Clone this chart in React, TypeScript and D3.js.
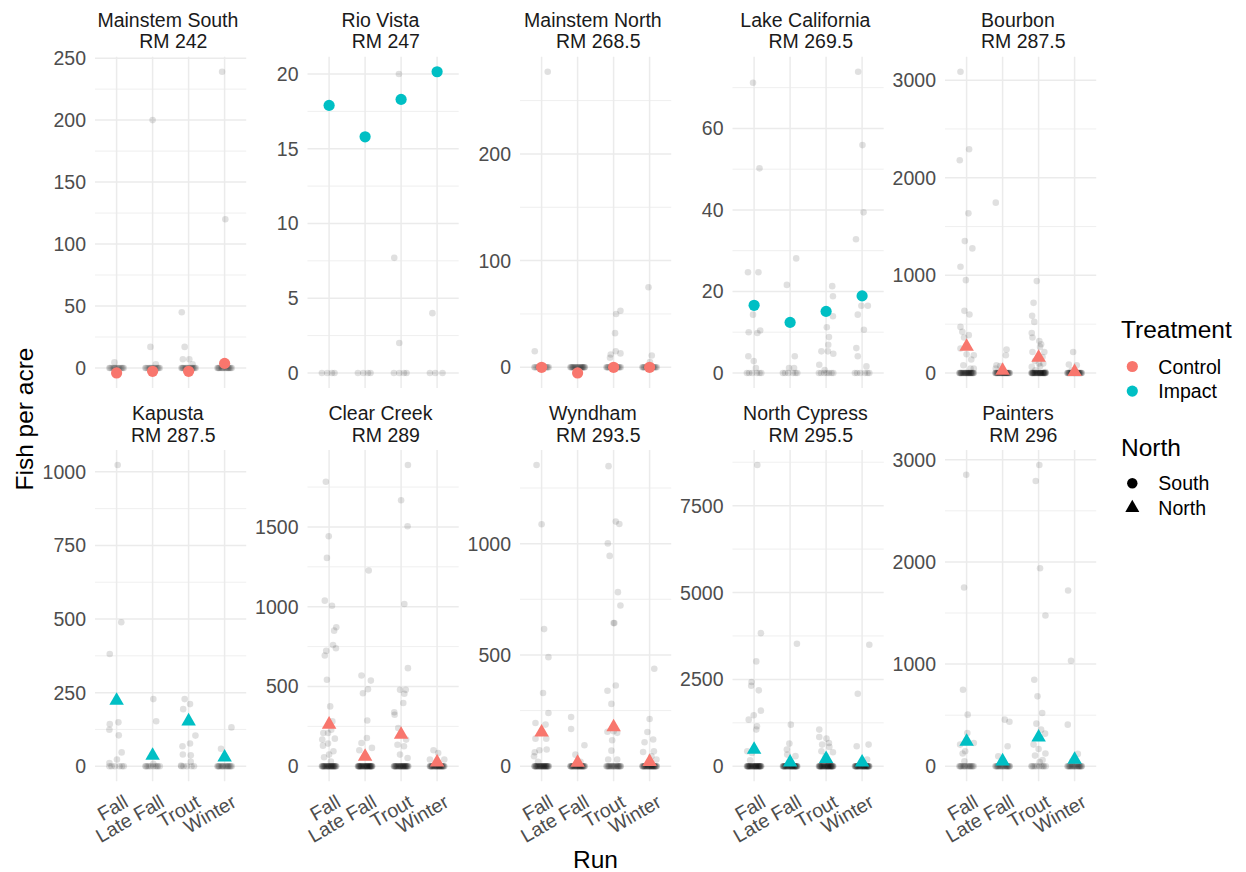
import * as d3 from "d3";

// Run categories and facet metadata
const RUNS = ["Fall", "Late Fall", "Trout", "Winter"];
const SITES = [
  "Mainstem South", "Rio Vista", "Mainstem North", "Lake California", "Bourbon",
  "Kapusta", "Clear Creek", "Wyndham", "North Cypress", "Painters",
];
const RIVER_MILE = ["242", "247", "268.5", "269.5", "287.5", "287.5", "289", "293.5", "295.5", "296"];
const TREATMENT = ["Control", "Impact", "Control", "Impact", "Control", "Impact", "Control", "Control", "Impact", "Impact"];
const NORTH = ["South", "South", "South", "South", "North", "North", "North", "North", "North", "North"];

// plotted summary point per site x run
const MEANS = [
  [-4, -2.7, -2.7, 3.7],
  [17.9, 15.8, 18.3, 20.15],
  [0, -5.3, 0, 0],
  [16.6, 12.4, 15.1, 18.9],
  [270, 25, 158, 12],
  [223, 36, 153, 30],
  [262, 60, 198, 25],
  [152, 16, 176, 20],
  [479, 110, 211, 115],
  [241, 49, 283, 65],
];

const Y_BREAKS = [
  [0, 50, 100, 150, 200, 250],
  [0, 5, 10, 15, 20],
  [0, 100, 200],
  [0, 20, 40, 60],
  [0, 1000, 2000, 3000],
  [0, 250, 500, 750, 1000],
  [0, 500, 1000, 1500],
  [0, 500, 1000],
  [0, 2500, 5000, 7500],
  [0, 1000, 2000, 3000],
];

// how many raw observations sit at zero (site x run)
const ZERO_COUNTS = [
  [14, 14, 16, 16],
  [4, 4, 4, 3],
  [14, 20, 16, 16],
  [6, 6, 7, 6],
  [30, 30, 35, 30],
  [6, 10, 5, 16],
  [30, 35, 30, 30],
  [30, 30, 20, 30],
  [35, 35, 35, 35],
  [16, 20, 10, 20],
];
const ZERO_DX = [
  -0.2, 0.15, -0.05, 0.08, -0.14, 0.2, 0.02, -0.1, 0.12, -0.18, 0.05, -0.02, 0.17,
  -0.07, 0.1, -0.16, 0.0, 0.13, -0.12, 0.19, -0.04, 0.07, -0.19, 0.03, 0.16,
  -0.09, 0.11, -0.15, 0.06, -0.01, 0.18, -0.11, 0.04, -0.17, 0.14, -0.06, 0.09,
];

// non-zero raw observations: [jitter dx, fish per acre], one list per run
const MAINSTEM_SOUTH = [
  [[-0.06, 4.5]],
  [[0, 200], [-0.06, 17], [0.09, 3]],
  [[-0.19, 45], [-0.11, 17], [-0.16, 7], [0.02, 7], [0.11, 3]],
  [[-0.07, 239], [0.02, 120]],
];
const RIO_VISTA = [
  [],
  [],
  [[-0.06, 20], [-0.19, 7.7], [-0.05, 2]],
  [[-0.13, 4]],
];
const MAINSTEM_NORTH = [
  [[0.17, 277], [-0.19, 15]],
  [],
  [[0.07, 50], [0.19, 53], [0.04, 32], [-0.1, 9], [-0.08, 12], [0.06, 15], [0.19, 13]],
  [[-0.03, 75], [0.06, 11], [0.01, 5]],
];
const LAKE_CALIFORNIA = [
  [[-0.03, 71.2], [0.15, 50.2], [-0.17, 24.7], [0.12, 24.7], [-0.03, 14.3], [0.09, 9.8], [0.17, 10.4], [-0.15, 10], [-0.16, 4.1], [-0.01, 2.9], [0.05, 1.2]],
  [[0.17, 28.1], [-0.09, 21.6], [0.13, 4.1], [-0.03, 1.2], [0.11, 1.2]],
  [[0.17, 21.3], [0.19, 18.8], [0.19, 13.9], [0.02, 11.2], [0.08, 8.8], [0.06, 6.9], [0.05, 5.3], [0.2, 4.7], [-0.13, 5.3], [-0.19, 2], [-0.04, 0.7]],
  [[-0.11, 73.9], [0.01, 55.9], [0.04, 39.4], [-0.17, 32.8], [-0.12, 14.3], [-0.02, 16.5], [0.16, 16.5], [0.05, 10.6], [-0.16, 6.1], [-0.12, 4.1], [0.12, 1.6]],
];
const BOURBON = [
  [[-0.17, 3086], [0.07, 2292], [-0.19, 2179], [0.05, 1635], [-0.05, 1351], [0.16, 1276], [-0.17, 1088], [-0.02, 951], [-0.06, 636], [0.08, 599], [-0.17, 472], [-0.12, 421], [0.06, 387], [-0.07, 363], [-0.17, 250], [0, 192], [0.2, 181], [0.13, 137], [-0.09, 79], [0.2, 44], [0.11, 44]],
  [[-0.19, 1745], [0.11, 240], [0.09, 181], [-0.17, 79], [-0.07, 70], [-0.19, 44]],
  [[-0.05, 941], [-0.14, 718], [-0.18, 585], [-0.12, 523], [-0.19, 410], [-0.17, 363], [0.02, 328], [0.07, 294], [0.04, 267], [0.16, 215], [-0.17, 215], [0.11, 164], [-0.1, 123], [0.01, 96], [0.13, 96], [-0.19, 62], [0.04, 68], [-0.09, 27], [0.19, 10]],
  [[-0.04, 215], [-0.16, 86], [0.06, 79], [-0.08, 27]],
];
const KAPUSTA = [
  [[0.03, 1023], [0.13, 489], [-0.19, 381], [-0.19, 143], [0.05, 149], [-0.2, 124], [0.06, 105], [0.14, 47], [0.01, 23], [-0.2, 11]],
  [[0.02, 228], [0.1, 153], [0.02, 8]],
  [[-0.11, 228], [0.04, 211], [-0.15, 194], [0.19, 104], [0.04, 77], [-0.17, 68], [-0.16, 40], [0.06, 37], [0.06, 15], [-0.21, 2]],
  [[0.19, 132], [-0.1, 59]],
];
const CLEAR_CREEK = [
  [[-0.09, 1783], [-0.01, 1442], [-0.06, 1306], [-0.12, 1038], [0.08, 1006], [0.2, 871], [0.14, 850], [0.11, 760], [0.19, 740], [-0.08, 723], [-0.12, 694], [-0.06, 542], [0.03, 375], [0.09, 281], [0.06, 229], [-0.16, 208], [-0.03, 208], [-0.19, 167], [0.16, 173], [-0.03, 142], [-0.17, 129], [0.12, 94], [0, 73], [-0.14, 56], [0.05, 30]],
  [[0.1, 1227], [-0.1, 569], [0.16, 537], [0.08, 483], [-0.06, 458], [0.06, 287], [0.05, 177], [-0.1, 146], [0.19, 115], [-0.16, 100], [0.03, 60]],
  [[0.19, 1888], [0, 1667], [0.18, 1504], [0.09, 1017], [0.19, 615], [-0.03, 479], [0.13, 479], [0.09, 454], [0.06, 396], [-0.19, 338], [-0.18, 323], [-0.08, 240], [0.14, 167], [-0.1, 135], [0.08, 125], [-0.03, 73], [0.18, 52]],
  [[-0.1, 100], [0.03, 83], [-0.2, 42], [0.2, 42]],
];
const WYNDHAM = [
  [[-0.14, 1353], [0, 1087], [0.07, 616], [0.19, 490], [0.04, 329], [0.19, 239], [-0.17, 194], [0.11, 187], [-0.17, 124], [0.13, 124], [-0.19, 63], [-0.06, 72], [0.14, 75], [-0.21, 45], [-0.1, 20]],
  [[-0.18, 221], [-0.18, 167], [0.19, 94], [-0.06, 52], [0.08, 20]],
  [[-0.14, 1348], [0.06, 1099], [0.16, 1088], [-0.16, 1001], [-0.11, 945], [0.12, 782], [0.19, 722], [0, 643], [0.02, 643], [0.06, 363], [-0.17, 339], [-0.06, 280], [0, 157], [-0.17, 155], [0.1, 150], [-0.04, 117], [-0.06, 70], [-0.15, 30], [0.1, 30]],
  [[0.13, 438], [0, 212], [-0.06, 154], [-0.14, 108], [0.1, 120], [-0.18, 64], [0.12, 67], [0.05, 45], [0.19, 30]],
];
const NORTH_CYPRESS = [
  [[0.09, 8669], [0.19, 3831], [0.06, 3017], [-0.08, 2318], [-0.07, 2423], [0.13, 2184], [0.19, 1600], [-0.01, 1466], [-0.15, 1341], [0.08, 1149], [0.06, 1054], [-0.19, 431], [-0.06, 383], [-0.11, 172]],
  [[0.19, 3525], [0.02, 1197], [-0.02, 651], [-0.09, 479], [-0.08, 335], [0.15, 290]],
  [[-0.19, 1054], [-0.19, 843], [0.01, 795], [0.08, 670], [-0.11, 623], [0.19, 402], [0.09, 556], [-0.13, 431], [-0.01, 290]],
  [[0.2, 3496], [-0.12, 2088], [0.18, 623], [-0.15, 575], [0.14, 192]],
];
const PAINTERS = [
  [[-0.01, 2853], [-0.07, 1749], [-0.1, 749], [0.03, 505], [0.02, 326], [-0.18, 212], [0.2, 228], [-0.11, 124], [-0.04, 147], [-0.06, 49]],
  [[0.06, 456], [0.19, 436], [0.14, 195], [-0.12, 98]],
  [[0.02, 2948], [-0.08, 2792], [0.04, 1938], [0.19, 1476], [-0.12, 847], [-0.03, 684], [0.1, 521], [-0.06, 417], [0.07, 358], [0.18, 319], [-0.14, 212], [0, 169], [0.19, 124], [-0.1, 104], [0.03, 40], [0.11, 60]],
  [[-0.18, 1720], [-0.1, 1033], [-0.19, 407], [0.09, 121], [-0.06, 50]],
];
const SITE_POINTS = [
  MAINSTEM_SOUTH, RIO_VISTA, MAINSTEM_NORTH, LAKE_CALIFORNIA, BOURBON,
  KAPUSTA, CLEAR_CREEK, WYNDHAM, NORTH_CYPRESS, PAINTERS,
];

const TREATMENT_COLORS: Record<string, string> = { Control: "#F8766D", Impact: "#00BFC4" };

const WIDTH = 1246;
const HEIGHT = 872;
const PANEL_X0 = 95;
const COL_STEP = 212.5;
const PANEL_W = 151.2;
const PANEL_Y0 = 56.7;
const ROW_STEP = 393.3;
const PANEL_H = 331.3;
const FONT = "'Liberation Sans', Arial, Helvetica, sans-serif";
const SMALL = 19.5;
const BIG = 24.5;

const triangle = d3.symbol(d3.symbolTriangle, 91)();
const legendTriangle = d3.symbol(d3.symbolTriangle, 85)();

function Panel({ i }: { i: number }) {
  const col = i % 5;
  const row = Math.floor(i / 5);
  const left = PANEL_X0 + col * COL_STEP;
  const top = PANEL_Y0 + row * ROW_STEP;
  const bottom = top + PANEL_H;

  const x = d3.scalePoint<string>().domain(RUNS).range([left, left + PANEL_W]).padding(0.6);
  const step = x.step();

  const raw: { run: number; dx: number; v: number }[] = [];
  SITE_POINTS[i].forEach((pts, r) => {
    pts.forEach(([dx, v]) => raw.push({ run: r, dx, v }));
    for (let k = 0; k < ZERO_COUNTS[i][r]; k++) raw.push({ run: r, dx: ZERO_DX[k % ZERO_DX.length], v: 0 });
  });

  const all = raw.map((d) => d.v).concat(MEANS[i]);
  const [lo, hi] = d3.extent(all) as [number, number];
  const pad = (hi - lo) * 0.05;
  const y = d3.scaleLinear().domain([lo - pad, hi + pad]).range([bottom, top]);

  const breaks = Y_BREAKS[i];
  const half = (breaks[1] - breaks[0]) / 2;
  const minor = [breaks[0] - half, ...breaks.map((b) => b + half)].filter(
    (m) => m >= lo - pad && m <= hi + pad
  );

  const color = TREATMENT_COLORS[TREATMENT[i]];
  const cx = left + PANEL_W / 2;

  return (
    <g>
      {/* strip */}
      <text x={cx - 2.7} y={top - 30} textAnchor="middle" fontSize={SMALL} fill="#1A1A1A">
        {SITES[i]}
      </text>
      <text x={cx + 2.7} y={top - 8.4} textAnchor="middle" fontSize={SMALL} fill="#1A1A1A">
        {`RM ${RIVER_MILE[i]}`}
      </text>

      {/* grid */}
      {minor.map((m) => (
        <line key={"mi" + m} x1={left} x2={left + PANEL_W} y1={y(m)} y2={y(m)} stroke="#EBEBEB" strokeWidth={0.8} />
      ))}
      {breaks.map((b) => (
        <line key={"ma" + b} x1={left} x2={left + PANEL_W} y1={y(b)} y2={y(b)} stroke="#EBEBEB" strokeWidth={1.5} />
      ))}
      {RUNS.map((r) => (
        <line key={"v" + r} x1={x(r)} x2={x(r)} y1={top} y2={bottom} stroke="#EBEBEB" strokeWidth={1.5} />
      ))}

      {/* y axis labels */}
      {breaks.map((b) => (
        <text key={"yl" + b} x={left - 9} y={y(b)} dy="0.36em" textAnchor="end" fontSize={SMALL} fill="#4D4D4D">
          {b}
        </text>
      ))}

      {/* x axis labels on bottom row */}
      {row === 1 &&
        RUNS.map((r) => (
          <text
            key={"xl" + r}
            transform={`translate(${(x(r) as number) + 6},${bottom + 12.3}) rotate(-30)`}
            dy="0.72em"
            textAnchor="end"
            fontSize={SMALL}
            fill="#4D4D4D"
          >
            {r}
          </text>
        ))}

      {/* raw observations */}
      {raw.map((d, k) => (
        <circle
          key={"p" + k}
          cx={(x(RUNS[d.run]) as number) + d.dx * step}
          cy={y(d.v)}
          r={3.3}
          fill="#000"
          fillOpacity={0.12}
        />
      ))}

      {/* summary points */}
      {MEANS[i].map((m, r) =>
        NORTH[i] === "North" ? (
          <path key={"m" + r} d={triangle} transform={`translate(${x(RUNS[r])},${y(m)})`} fill={color} />
        ) : (
          <circle key={"m" + r} cx={x(RUNS[r])} cy={y(m)} r={5.6} fill={color} />
        )
      )}
    </g>
  );
}

export default function App() {
  return (
    <svg
      width={WIDTH}
      height={HEIGHT}
      viewBox={`0 0 ${WIDTH} ${HEIGHT}`}
      style={{ position: "absolute", left: 0, top: 0, background: "#fff" }}
      fontFamily={FONT}
    >
      <rect width={WIDTH} height={HEIGHT} fill="#fff" />
      {SITES.map((_, i) => (
        <Panel key={i} i={i} />
      ))}

      {/* axis titles */}
      <text x={595.5} y={868} textAnchor="middle" fontSize={BIG} fill="#000">
        Run
      </text>
      <text transform="translate(33,419) rotate(-90)" textAnchor="middle" fontSize={BIG} fill="#000">
        Fish per acre
      </text>

      {/* legends */}
      <text x={1121} y={338.3} fontSize={BIG} fill="#000">
        Treatment
      </text>
      {["Control", "Impact"].map((t, k) => (
        <g key={t}>
          <circle cx={1132.3} cy={366.5 + k * 24.6} r={5.6} fill={TREATMENT_COLORS[t]} />
          <text x={1158.3} y={366.5 + k * 24.6} dy="0.36em" fontSize={SMALL} fill="#000">
            {t}
          </text>
        </g>
      ))}
      <text x={1121} y={455.7} fontSize={BIG} fill="#000">
        North
      </text>
      {["South", "North"].map((t, k) => (
        <g key={t}>
          {t === "South" ? (
            <circle cx={1132.3} cy={483.3} r={5.2} fill="#000" />
          ) : (
            <path d={legendTriangle} transform={`translate(1132.3,${483.3 + 24.6})`} fill="#000" />
          )}
          <text x={1158.3} y={483.3 + k * 24.6} dy="0.36em" fontSize={SMALL} fill="#000">
            {t}
          </text>
        </g>
      ))}
    </svg>
  );
}
